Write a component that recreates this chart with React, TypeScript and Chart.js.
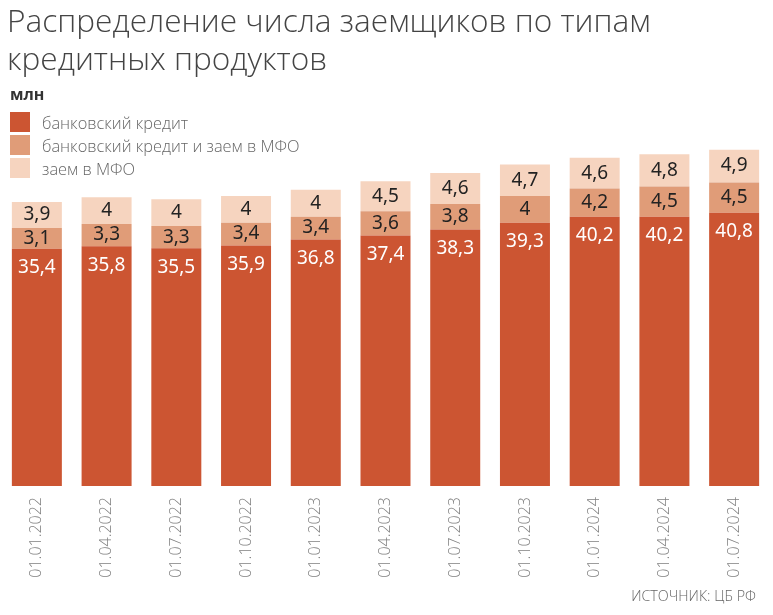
import React, { useEffect, useRef } from "react";
import { Chart, registerables } from "chart.js";

Chart.register(...registerables);

const categories = [
  "01.01.2022", "01.04.2022", "01.07.2022", "01.10.2022",
  "01.01.2023", "01.04.2023", "01.07.2023", "01.10.2023",
  "01.01.2024", "01.04.2024", "01.07.2024",
];
const bankCredit = [35.4, 35.8, 35.5, 35.9, 36.8, 37.4, 38.3, 39.3, 40.2, 40.2, 40.8];
const bankAndMfo = [3.1, 3.3, 3.3, 3.4, 3.4, 3.6, 3.8, 4, 4.2, 4.5, 4.5];
const mfoOnly = [3.9, 4, 4, 4, 4, 4.5, 4.6, 4.7, 4.6, 4.8, 4.9];

const seriesNames = ["банковский кредит", "банковский кредит и заем в МФО", "заем в МФО"];
const seriesColors = ["#cc5532", "#e09c78", "#f6d4bf"];
const labelColors = ["#ffffff", "#222222", "#222222"];

const titleText = ["Распределение числа заемщиков по типам", "кредитных продуктов"];
const unitText = "млн";
const sourceText = "ИСТОЧНИК: ЦБ РФ";

const fmt = (v: number) => String(v).replace(".", ",");

const labelPlugin = {
  id: "segLabels",
  afterDatasetsDraw(chart: any) {
    const ctx = chart.ctx;
    ctx.save();
    ctx.font = "19px 'Noto Sans'";
    ctx.textAlign = "center";
    ctx.textBaseline = "middle";
    chart.data.datasets.forEach((ds: any, di: number) => {
      const meta = chart.getDatasetMeta(di);
      meta.data.forEach((bar: any, i: number) => {
        const v = ds.data[i];
        const top = Math.min(bar.y, bar.base);
        const bottom = Math.max(bar.y, bar.base);
        const y = di === 0 ? top + 19 : (top + bottom) / 2;
        ctx.fillStyle = labelColors[di];
        ctx.fillText(fmt(v), bar.x, y);
      });
    });
    ctx.restore();
  },
};

export default function App() {
  const ref = useRef<HTMLCanvasElement>(null);
  useEffect(() => {
    const chart = new Chart(ref.current!, {
      type: "bar",
      data: {
        labels: categories,
        datasets: [bankCredit, bankAndMfo, mfoOnly].map((d, i) => ({
          label: seriesNames[i],
          data: d,
          backgroundColor: seriesColors[i],
          borderWidth: 0,
          categoryPercentage: 1,
          barPercentage: 0.717,
        })),
      },
      options: {
        animation: false,
        responsive: false,
        maintainAspectRatio: false,
        layout: { padding: { top: 84, left: 2, right: 4, bottom: 0 } },
        plugins: { legend: { display: false }, tooltip: { enabled: false } },
        scales: {
          x: {
            stacked: true,
            grid: { display: false, drawTicks: false },
            border: { display: false },
            ticks: {
              minRotation: 90,
              maxRotation: 90,
              padding: 11,
              color: "#808080",
              font: { family: "'Open Sans'", size: 16, weight: "300" },
            },
            afterFit: (scale: any) => {
              scale.height = 129;
            },
          },
          y: {
            stacked: true,
            display: false,
            min: 0,
            max: 60,
          },
        },
      },
      plugins: [labelPlugin],
    });
    return () => chart.destroy();
  }, []);

  return (
    <div style={{ position: "absolute", left: 0, top: 0, width: 773, height: 615, background: "#fff", overflow: "hidden" }}>
      <canvas ref={ref} width={773} height={615} style={{ position: "absolute", left: 0, top: 0 }} />
      <div
        style={{
          position: "absolute", left: 7, top: 1, fontFamily: "'Open Sans'", fontWeight: 300,
          fontSize: 31.6, lineHeight: "38px", color: "#444", whiteSpace: "nowrap",
        }}
      >
        {titleText.map((t, i) => (<div key={i}>{t}</div>))}
      </div>
      <div
        style={{
          position: "absolute", left: 10, top: 84, fontFamily: "'Open Sans'", fontWeight: 700,
          fontSize: 16, lineHeight: "20px", color: "#333",
        }}
      >
        {unitText}
      </div>
      {seriesNames.map((n, i) => (
        <div key={n} style={{ position: "absolute", left: 10, top: 112 + i * 23, height: 20, display: "flex", alignItems: "center" }}>
          <div style={{ width: 20, height: 20, background: seriesColors[i] }} />
          <div style={{ marginLeft: 12, fontFamily: "'Open Sans'", fontWeight: 300, fontSize: 16.4, color: "#666", whiteSpace: "nowrap" }}>{n}</div>
        </div>
      ))}
      <div
        style={{
          position: "absolute", right: 17, top: 586, fontFamily: "'Open Sans'", fontWeight: 300,
          fontSize: 14.3, lineHeight: "20px", color: "#666", whiteSpace: "nowrap",
        }}
      >
        {sourceText}
      </div>
    </div>
  );
}
